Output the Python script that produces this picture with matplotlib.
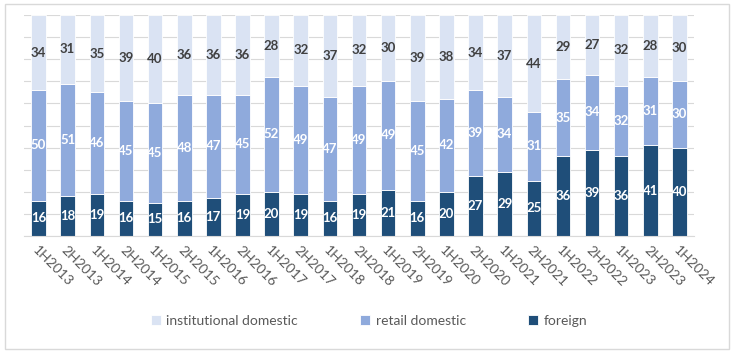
import matplotlib.pyplot as plt
import numpy as np
from matplotlib.patches import Rectangle

periods = ["1H2013", "2H2013", "1H2014", "2H2014", "1H2015", "2H2015", "1H2016", "2H2016",
           "1H2017", "2H2017", "1H2018", "2H2018", "1H2019", "2H2019", "1H2020", "2H2020",
           "1H2021", "2H2021", "1H2022", "2H2022", "1H2023", "2H2023", "1H2024"]
foreign = [16, 18, 19, 16, 15, 16, 17, 19, 20, 19, 16, 19, 21, 16, 20, 27, 29, 25, 36, 39, 36, 41, 40]
retail = [50, 51, 46, 45, 45, 48, 47, 45, 52, 49, 47, 49, 49, 45, 42, 39, 34, 31, 35, 34, 32, 31, 30]
institutional = [34, 31, 35, 39, 40, 36, 36, 36, 28, 32, 37, 32, 30, 39, 38, 34, 37, 44, 29, 27, 32, 28, 30]

c_foreign = "#1F4E79"
c_retail = "#8FAADC"
c_inst = "#DAE3F3"

plt.rcParams['font.family'] = ['Lato', 'DejaVu Sans']

fig = plt.figure(figsize=(7.38, 3.55), dpi=100)
ax = fig.add_axes([24 / 738, 1 - 236 / 355, 670 / 738, 221 / 355])

x = np.arange(len(periods))
f = np.array(foreign)
r = np.array(retail)
i = np.array(institutional)
w = 0.5

b1 = ax.bar(x, f, w, color=c_foreign, edgecolor="white", linewidth=0.6, zorder=2, label="foreign")
b2 = ax.bar(x, r, w, bottom=f, color=c_retail, edgecolor="white", linewidth=0.6, zorder=2, label="retail domestic")
b3 = ax.bar(x, i, w, bottom=f + r, color=c_inst, edgecolor="white", linewidth=0.6, zorder=2,
            label="institutional domestic")

for bars, vals, bottoms, col in [(b1, f, np.zeros_like(f), "white"),
                                 (b2, r, f, "white"),
                                 (b3, i, f + r, "#404040")]:
    for k in range(len(vals)):
        ax.text(x[k], bottoms[k] + vals[k] / 2, str(vals[k]), ha="center", va="center",
                fontsize=9.5, fontweight="bold", color=col, zorder=3)

ax.set_xlim(-0.5, len(periods) - 0.5)
ax.set_ylim(0, 100)
ax.set_yticks(np.arange(0, 101, 10))
ax.yaxis.grid(True, color="#D9D9D9", linewidth=0.8, zorder=0)
ax.set_yticklabels([])
ax.tick_params(axis="y", length=0)
ax.tick_params(axis="x", length=0, pad=6)
for s in ["top", "right", "left"]:
    ax.spines[s].set_visible(False)
ax.spines["bottom"].set_color("#D9D9D9")
ax.set_xticks(x)
ax.set_xticklabels(periods, rotation=-45, ha="left", va="top", rotation_mode="anchor",
                   fontsize=10, color="#595959")

handles = [b3, b2, b1]
leg = fig.legend(handles, [h.get_label() for h in handles], loc="center", bbox_to_anchor=(0.5, 1 - 321 / 355),
                 ncol=3, frameon=False, fontsize=10, handlelength=0.7, handleheight=0.7,
                 columnspacing=4.5, handletextpad=0.4, labelcolor="#595959")

fig.patches.append(Rectangle((5 / 738, 1 - 349 / 355), 724 / 738, 345 / 355, transform=fig.transFigure,
                             fill=False, edgecolor="#D9D9D9", linewidth=1))

fig.savefig("out.png", dpi=100)
